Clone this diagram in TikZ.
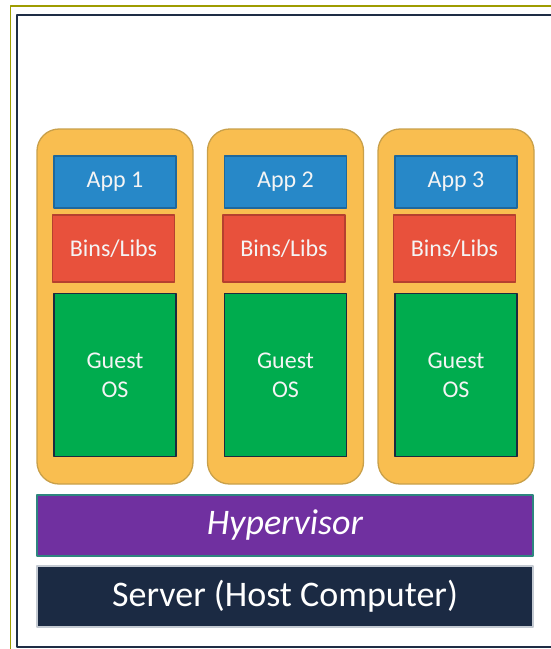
\documentclass[tikz,border=0pt]{standalone}
\usepackage{fontspec}
\setmainfont{Carlito}
\usepackage{xcolor}
\usepackage{tikz}
\usetikzlibrary{positioning}
\definecolor{vmfill}{HTML}{F9BE50}
\definecolor{vmedge}{HTML}{C9A04A}
\definecolor{appblue}{HTML}{2788C8}
\definecolor{appedge}{HTML}{1F689C}
\definecolor{binsred}{HTML}{E8513C}
\definecolor{binsedge}{HTML}{B5402F}
\definecolor{guestgreen}{HTML}{00AC4E}
\definecolor{guestedge}{HTML}{1C2A3F}
\definecolor{hyperpurple}{HTML}{7030A0}
\definecolor{hyperedge}{HTML}{2E857F}
\definecolor{servernavy}{HTML}{1B2A43}
\definecolor{serveredge}{HTML}{C4CAD2}
\definecolor{framenavy}{HTML}{1E2D45}
\definecolor{frameolive}{HTML}{9E9C00}
\definecolor{textwhite}{HTML}{F4F4F4}

\begin{document}
\begin{tikzpicture}[
    x=1pt,y=-1pt,
    line join=round,
    vmbox/.style={draw=vmedge, fill=vmfill, rounded corners=22pt, line width=1.3pt, minimum width=156pt, minimum height=355pt},
    layer/.style={line width=1.3pt, minimum width=122pt, inner sep=0pt, align=center, text=textwhite, font=\fontsize{24}{29}\selectfont},
    appbox/.style={layer, draw=appedge, fill=appblue, minimum height=52pt},
    binsbox/.style={layer, draw=binsedge, fill=binsred, minimum height=67pt},
    guestbox/.style={layer, draw=guestedge, fill=guestgreen, minimum height=163pt},
    hostbar/.style={line width=1.3pt, minimum width=496pt, minimum height=61pt, inner sep=0pt, text=white, font=\fontsize{36}{42}\selectfont}
]
\useasboundingbox (0,0) rectangle (551,649);
\clip (0,0) rectangle (551,649);
\fill[white] (0,0) rectangle (551,649);

% Frames
\draw[frameolive, line width=1.2pt] (10.5,6) rectangle (620,700);
\draw[framenavy, line width=2.6pt] (17,15) rectangle (600,647);

% Containers
\node[vmbox] (vm1) at (115,306.5) {};
\node[vmbox] (vm2) at (285.5,306.5) {};
\node[vmbox] (vm3) at (456,306.5) {};

% Container 1
\node[appbox]   (app1)   at ([yshift=124.5pt]vm1.center) {App 1};
\node[binsbox]  (bins1)  at ([xshift=-1.5pt,yshift=58pt]vm1.center) {Bins/Libs};
\node[guestbox] (guest1) at ([yshift=-68.5pt]vm1.center) {Guest\\OS};

% Container 2
\node[appbox]   (app2)   at ([yshift=124.5pt]vm2.center) {App 2};
\node[binsbox]  (bins2)  at ([xshift=-1.5pt,yshift=58pt]vm2.center) {Bins/Libs};
\node[guestbox] (guest2) at ([yshift=-68.5pt]vm2.center) {Guest\\OS};

% Container 3
\node[appbox]   (app3)   at ([yshift=124.5pt]vm3.center) {App 3};
\node[binsbox]  (bins3)  at ([xshift=-1.5pt,yshift=58pt]vm3.center) {Bins/Libs};
\node[guestbox] (guest3) at ([yshift=-68.5pt]vm3.center) {Guest\\OS};

% Hypervisor and host
\node[hostbar, draw=hyperedge, fill=hyperpurple] (hyper) at (285,525.5) {\itshape Hypervisor};
\node[hostbar, draw=serveredge, fill=servernavy] (server) at (285,596.5) {Server (Host Computer)};

\end{tikzpicture}
\end{document}
